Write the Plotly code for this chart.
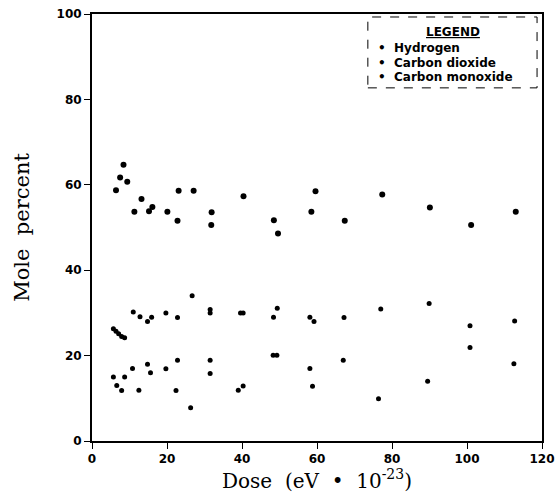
'''
Gas composition (mole percent) vs. absorbed dose.
Three gases: hydrogen, carbon dioxide and carbon monoxide.
'''

import plotly.graph_objects as go

'''
    ======= DATA ======================================================================
'''
# Hydrogen
h2_dose = [6.4, 7.5, 8.4, 9.4, 11.3, 13.2, 15.2, 16.1, 20.1, 22.8, 23.1, 27.1,
           31.8, 31.9, 40.4, 48.5, 49.6, 58.5, 59.6, 67.4, 77.4, 90.1, 101.1, 113.0]
h2_pct = [58.7, 61.7, 64.7, 60.7, 53.7, 56.7, 53.8, 54.8, 53.7, 51.6, 58.6, 58.6,
          50.6, 53.6, 57.3, 51.7, 48.6, 53.7, 58.5, 51.6, 57.7, 54.7, 50.6, 53.7]

# Carbon dioxide
co2_dose = [5.7, 6.4, 7.1, 7.9, 8.7, 11.0, 12.8, 14.8, 15.9, 19.7, 22.8, 26.7, 31.5,
            31.5, 39.6, 40.3, 48.4, 49.4, 58.1, 59.2, 67.2, 77.0, 89.9, 100.8, 112.7]
co2_pct = [26.3, 25.7, 25.1, 24.5, 24.2, 30.2, 29.1, 28.0, 29.0, 30.0, 28.9, 34.0, 30.8,
           30.0, 30.0, 30.0, 29.0, 31.1, 29.0, 28.0, 28.9, 30.9, 32.2, 27.0, 28.1]

# Carbon monoxide
co_dose = [5.7, 6.6, 7.9, 8.7, 10.8, 12.5, 14.8, 15.6, 19.7, 22.4, 22.8, 26.3, 31.5,
           31.5, 39.0, 40.3, 48.3, 49.3, 58.1, 58.8, 67.0, 76.4, 89.5, 100.8, 112.5]
co_pct = [15.0, 13.0, 11.8, 15.0, 17.0, 11.9, 18.0, 16.0, 16.9, 11.8, 18.9, 7.8, 18.9,
          15.8, 11.9, 12.9, 20.1, 20.1, 17.0, 12.8, 18.9, 9.9, 14.0, 21.9, 18.1]

legend_title = 'LEGEND'
legend_names = ['Hydrogen', 'Carbon dioxide', 'Carbon monoxide']

'''
    ======= FIGURE ====================================================================
'''
fig = go.Figure()

fig.add_trace(go.Scatter(x=h2_dose, y=h2_pct, mode='markers', name=legend_names[0],
                         marker=dict(color='black', size=6)))
fig.add_trace(go.Scatter(x=co2_dose, y=co2_pct, mode='markers', name=legend_names[1],
                         marker=dict(color='black', size=5)))
fig.add_trace(go.Scatter(x=co_dose, y=co_pct, mode='markers', name=legend_names[2],
                         marker=dict(color='black', size=5)))

tick_font = dict(family='DejaVu Sans', size=12, color='black', weight='bold')
title_font = dict(family='DejaVu Serif', size=20, color='black')
nb = '\u00a0'

fig.update_xaxes(range=[0, 120], dtick=20, showgrid=False, zeroline=False,
                 showline=True, linewidth=2, linecolor='black', mirror=True,
                 ticks='outside', ticklen=6, tickcolor='black', tickfont=tick_font,
                 automargin=False, ticklabeloverflow='allow',
                 title=dict(text=f'Dose{nb}{nb}(eV{nb}{nb}•{nb}{nb}10<sup>-23</sup>)',
                            font=title_font, standoff=6))
fig.update_yaxes(range=[0, 100], dtick=20, showgrid=False, zeroline=False,
                 showline=True, linewidth=2, linecolor='black', mirror=True,
                 ticks='outside', ticklen=6, tickcolor='black', tickfont=tick_font,
                 automargin=False, ticklabeloverflow='allow',
                 title=dict(text=f'Mole{nb}{nb}percent', font=dict(title_font, size=21),
                            standoff=21))

# Legenda desenhada à mão (caixa tracejada + textos)
fig.add_shape(type='rect', xref='paper', yref='paper', x0=0.613, x1=0.989, y0=0.827, y1=0.993,
              line=dict(color='black', width=1, dash='dash'))
fig.add_annotation(xref='paper', yref='paper', x=0.802, y=0.958, showarrow=False,
                   xanchor='center', yanchor='middle', text=legend_title,
                   font=dict(family='DejaVu Sans', size=12, color='black', weight='bold',
                             lineposition='under'))
for name, ypos in zip(legend_names, [0.920, 0.886, 0.853]):
    fig.add_annotation(xref='paper', yref='paper', x=0.632, y=ypos, showarrow=False,
                       xanchor='left', yanchor='middle', text='•  ' + name,
                       font=dict(family='DejaVu Sans', size=12, color='black', weight='bold'))

fig.update_layout(width=556, height=493, showlegend=False,
                  plot_bgcolor='white', paper_bgcolor='white',
                  margin=dict(l=92, r=14, t=14, b=52))

# tira a margem padrão do body da página
fig.write_html('out.html', config={'displayModeBar': False},
               post_script="document.body.style.margin='0';")
